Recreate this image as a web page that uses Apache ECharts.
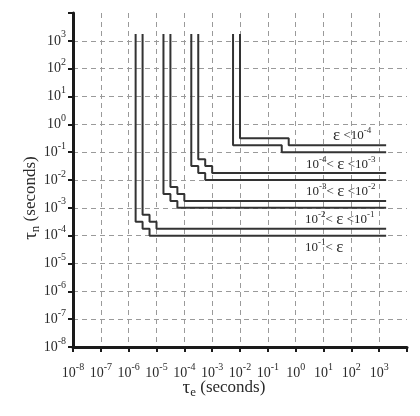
<!DOCTYPE html>
<html lang="en">
<head>
  <meta charset="UTF-8">
  <title>tau_n vs tau_e</title>
  <style>
    html, body { margin: 0; padding: 0; overflow: hidden; background: #fff; }
    #chart { width: 420px; height: 416px; }
  </style>
</head>
<body>
  <div id="chart"></div>
  <script src="https://cdn.jsdelivr.net/npm/echarts@6/dist/echarts.min.js"></script>
  <script>
    // all positions in log10(seconds)
    var axisMinExp = -8;
    var axisMaxExp = 4;
    var lineTopExp = 3.25;   // vertical parts start here (tau_n)
    var lineEndExp = 3.25;   // horizontal parts end here (tau_e)

    // staircase corners: xs = tau_e of the vertical pieces, ys = tau_n of the horizontal pieces
    var band1Outer = { xs: [-5.75, -5.5, -5.25], ys: [-3.5, -3.75, -4.0] };
    var band1Inner = { xs: [-5.5, -5.25, -5.0], ys: [-3.25, -3.5, -3.75] };
    var band2Outer = { xs: [-4.75, -4.5, -4.25], ys: [-2.5, -2.75, -3.0] };
    var band2Inner = { xs: [-4.5, -4.25, -4.0], ys: [-2.25, -2.5, -2.75] };
    var band3Outer = { xs: [-3.75, -3.5, -3.25], ys: [-1.5, -1.75, -2.0] };
    var band3Inner = { xs: [-3.5, -3.25, -3.0], ys: [-1.25, -1.5, -1.75] };
    var band4Outer = { xs: [-2.25, -0.5], ys: [-0.75, -1.0] };
    var band4Inner = { xs: [-2.0, -0.25], ys: [-0.5, -0.75] };

    var lines = [band1Outer, band1Inner, band2Outer, band2Inner,
                 band3Outer, band3Inner, band4Outer, band4Inner];

    // epsilon range labels, top to bottom
    var epsLabels = [
      '{e|ε} {n|<10}{s|-4}',
      '{n|10}{s|-4}{n|<} {e|ε} {n|<10}{s|-3}',
      '{n|10}{s|-3}{n|<} {e|ε} {n|<10}{s|-2}',
      '{n|10}{s|-2}{n|<} {e|ε} {n|<10}{s|-1}',
      '{n|10}{s|-1}{n|<} {e|ε}'
    ];

    function p(e) { return Math.pow(10, e); }

    function stairs(l) {
      var pts = [[p(l.xs[0]), p(lineTopExp)]];
      for (var i = 0; i < l.xs.length; i++) {
        pts.push([p(l.xs[i]), p(l.ys[i])]);
        if (i + 1 < l.xs.length) pts.push([p(l.xs[i + 1]), p(l.ys[i])]);
      }
      pts.push([p(lineEndExp), p(l.ys[l.ys.length - 1])]);
      return pts;
    }

    var serif = '"Liberation Serif", "DejaVu Serif", serif';
    var ink = '#2a2a2a';

    function tickLabel(v) {
      var e = Math.round(Math.log10(v));
      if (e >= axisMaxExp) return '';
      return '{n|10}{s|' + e + '}';
    }

    var tickRich = {
      n: { fontFamily: serif, fontSize: 14, color: ink, lineHeight: 22 },
      s: { fontFamily: serif, fontSize: 10, color: ink, lineHeight: 11, verticalAlign: 'top' }
    };

    function logAxis(extra) {
      return Object.assign({
        type: 'log',
        logBase: 10,
        min: p(axisMinExp),
        max: p(axisMaxExp),
        interval: 1,
        axisLine: { lineStyle: { color: '#1a1a1a', width: 3 } },
        axisTick: { inside: false, length: 5, lineStyle: { color: '#1a1a1a', width: 2 } },
        splitLine: {
          show: true, showMinLine: false, showMaxLine: false,
          lineStyle: { color: '#9a9a9a', width: 1, type: [5, 4] }
        },
        axisLabel: { formatter: tickLabel, rich: tickRich }
      }, extra);
    }

    var epsRich = {
      n: { fontFamily: serif, fontSize: 13, fill: ink, lineHeight: 20 },
      s: { fontFamily: serif, fontSize: 9, fill: ink, lineHeight: 10, verticalAlign: 'top' },
      e: { fontFamily: serif, fontSize: 17, fill: ink, lineHeight: 20 }
    };
    var titleRich = {
      t: { fontFamily: serif, fontSize: 19, fill: ink, lineHeight: 22 },
      b: { fontFamily: serif, fontSize: 13, fill: ink, lineHeight: 8, verticalAlign: 'bottom' },
      r: { fontFamily: serif, fontSize: 17, fill: ink, lineHeight: 22 }
    };

    var epsPos = [[333, 136], [306, 165], [306, 192], [305, 220], [305, 248]];

    var chart = echarts.init(document.getElementById('chart'));
    chart.setOption({
      animation: false,
      backgroundColor: '#fff',
      grid: { left: 73, right: 13, top: 13, bottom: 69 },
      xAxis: logAxis({ axisLabel: { formatter: tickLabel, rich: tickRich, margin: 15 } }),
      yAxis: logAxis({ axisLabel: { formatter: tickLabel, rich: tickRich, margin: 7 } }),
      series: lines.map(function (l) {
        return {
          type: 'line',
          data: stairs(l),
          symbol: 'none',
          z: 5,
          lineStyle: { color: '#333', width: 2 }
        };
      }),
      graphic: epsLabels.map(function (t, i) {
        return {
          type: 'text', x: epsPos[i][0], y: epsPos[i][1], z: 10,
          style: { text: t, rich: epsRich, align: 'left', verticalAlign: 'middle', fill: ink }
        };
      }).concat([
        {
          type: 'text', x: 224, y: 388,
          style: { text: '{t|τ}{b|e}{r| (seconds)}', rich: titleRich, align: 'center', verticalAlign: 'middle', fill: ink }
        },
        {
          type: 'text', x: 31, y: 198, rotation: Math.PI / 2,
          style: { text: '{t|τ}{b|n}{r| (seconds)}', rich: titleRich, align: 'center', verticalAlign: 'middle', fill: ink }
        }
      ])
    });
  </script>
</body>
</html>
